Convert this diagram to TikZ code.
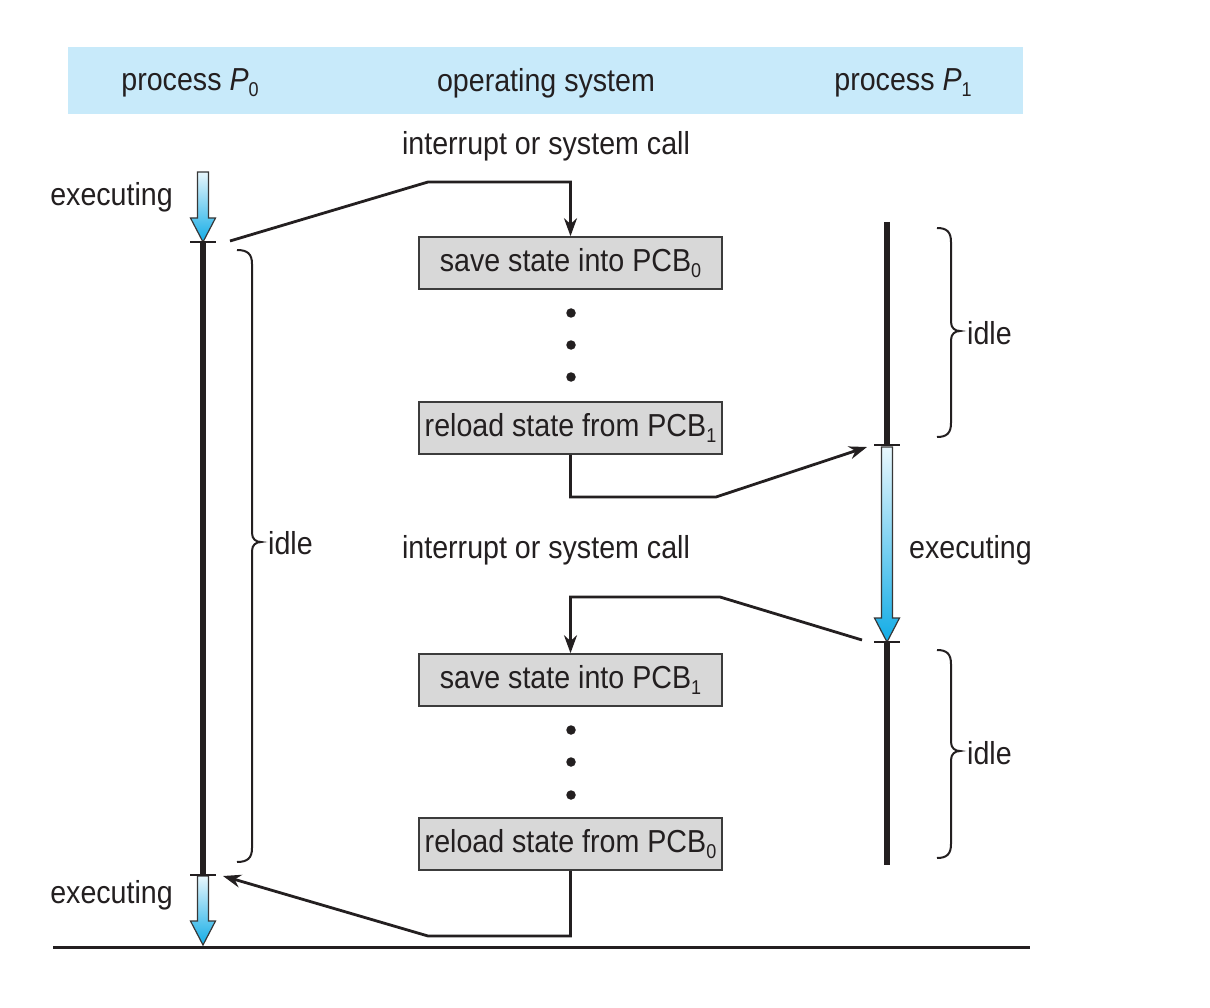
\documentclass[tikz,border=0pt]{standalone}
\usepackage{fontspec}
\setmainfont{Liberation Sans}[FakeStretch=0.9]
\usetikzlibrary{arrows.meta}
\definecolor{hdr}{RGB}{200,234,250}
\definecolor{boxfill}{RGB}{216,216,216}
\definecolor{boxline}{RGB}{60,60,60}
\definecolor{txt}{RGB}{35,31,32}
\definecolor{arrtop}{RGB}{232,247,253}
\definecolor{arrbot}{RGB}{18,172,230}
\definecolor{arrline}{RGB}{55,55,55}
\newcommand\lowsub[1]{\raisebox{-6pt}{\fontsize{20}{20}\selectfont #1}}
\newcommand\fatarr[3]{\shadedraw[top color=arrtop,bottom color=arrbot,draw=arrline,line width=1.2pt,line join=miter]
  (#1-5.5,#2) -- (#1+5.5,#2) -- (#1+5.5,#3-24) -- (#1+12.5,#3-24) -- (#1,#3) -- (#1-12.5,#3-24) -- (#1-5.5,#3-24) -- cycle;}
% #1 x of ends, #2 top y, #3 bottom y, #4 tip y, #5 offset of the long line
\newcommand\idlebr[5]{\draw[bracestyle]
  (#1,#2) .. controls (#1+#5*0.7,#2) and (#1+#5,#2+4) .. (#1+#5,#2+14)
  -- (#1+#5,#4-9) .. controls (#1+#5,#4-3) and (#1+#5+4,#4) .. (#1+#5+9,#4)
  .. controls (#1+#5+4,#4) and (#1+#5,#4+3) .. (#1+#5,#4+9)
  -- (#1+#5,#3-14) .. controls (#1+#5,#3-4) and (#1+#5*0.7,#3) .. (#1,#3);}
\begin{document}
\begin{tikzpicture}[x=1pt,y=-1pt,
  every node/.style={text=txt,font=\fontsize{31.8}{38}\selectfont,inner sep=0pt},
  lbl/.style={yshift=-3pt},
  statebox/.style={draw=boxline,fill=boxfill,line width=1.6pt,minimum width=303pt,minimum height=52pt},
  conn/.style={line width=2.8pt,draw=txt,-{Stealth[length=18pt,width=13pt]}},
  tline/.style={line width=6.8pt,draw=txt},
  tickmark/.style={line width=1.8pt,draw=txt},
  bracestyle/.style={line width=2pt,draw=txt},
  dot/.style={circle,fill=txt,minimum size=9.5pt,inner sep=0pt}]
\useasboundingbox (0,0) rectangle (1210,1008);
% header
\fill[hdr] (68,47) rectangle (1023,114);
\node[lbl] (h0) at (190,80) {process \textit{P}\lowsub{0}};
\node[lbl] (hos) at (546,80) {operating system};
\node[lbl] (h1) at (903,80) {process \textit{P}\lowsub{1}};
% labels
\node[lbl] (int1) at (546,143) {interrupt or system call};
\node[lbl] (int2) at (546,547) {interrupt or system call};
\node[lbl,anchor=east] (ex0) at (173,194) {executing};
\node[lbl,anchor=east] (ex0b) at (173,892) {executing};
\node[lbl,anchor=west] (ex1) at (909,547) {executing};
% boxes
\node[statebox] (b1) at (570.5,263) {\raisebox{-2pt}{save state into PCB\lowsub{0}}};
\node[statebox] (b2) at (570.5,428) {\raisebox{-2pt}{reload state from PCB\lowsub{1}}};
\node[statebox] (b3) at (570.5,680) {\raisebox{-2pt}{save state into PCB\lowsub{1}}};
\node[statebox] (b4) at (570.5,844) {\raisebox{-2pt}{reload state from PCB\lowsub{0}}};
% dots
\node[dot] (d1) at (571,313) {};
\node[dot] (d2) at (571,345) {};
\node[dot] (d3) at (571,377) {};
\node[dot] (d4) at (571,730) {};
\node[dot] (d5) at (571,762) {};
\node[dot] (d6) at (571,795) {};
% timelines
\fatarr{203}{172}{242}
\fatarr{203}{876}{945}
\fatarr{887}{447}{642}
\coordinate (p0a) at (203,242);
\coordinate (p0b) at (203,875);
\coordinate (p1a) at (887,222);
\coordinate (p1b) at (887,445);
\coordinate (p1c) at (887,642);
\coordinate (p1d) at (887,865);
\draw[tline] (p0a) -- (p0b);
\draw[tline] (p1a) -- (p1b);
\draw[tline] (p1c) -- (p1d);
\draw[tickmark] ([xshift=-13pt]p0a) -- ([xshift=13pt]p0a);
\draw[tickmark] ([xshift=-13pt]p0b) -- ([xshift=13pt]p0b);
\draw[tickmark] ([xshift=-13pt]p1b) -- ([xshift=13pt]p1b);
\draw[tickmark] ([xshift=-13pt]p1c) -- ([xshift=13pt]p1c);
% baseline
\coordinate (bl1) at (53,947);
\coordinate (bl2) at (1030,947);
\draw[line width=3pt,draw=txt] (bl1) -- (bl2);
% braces
\idlebr{237}{250}{862}{542}{15}
\node[lbl,anchor=west] (idle0) at (268,540) {idle};
\idlebr{937}{228}{437}{331}{14}
\node[lbl,anchor=west] (idle1) at (967,330) {idle};
\idlebr{937}{650}{858}{751}{14}
\node[lbl,anchor=west] (idle2) at (967,750) {idle};
% connectors
\coordinate (c1s) at (230,241);
\coordinate (c2e) at (867,447);
\coordinate (c3s) at (862,640);
\coordinate (c4e) at (223,876);
\draw[conn] (c1s) -- (428,182) -| (b1);
\draw[conn] (b2.south) |- (716,497) -- (c2e);
\draw[conn] (c3s) -- (720,597) -| (b3);
\draw[conn] (b4.south) |- (428,936) -- (c4e);
\end{tikzpicture}
\end{document}
